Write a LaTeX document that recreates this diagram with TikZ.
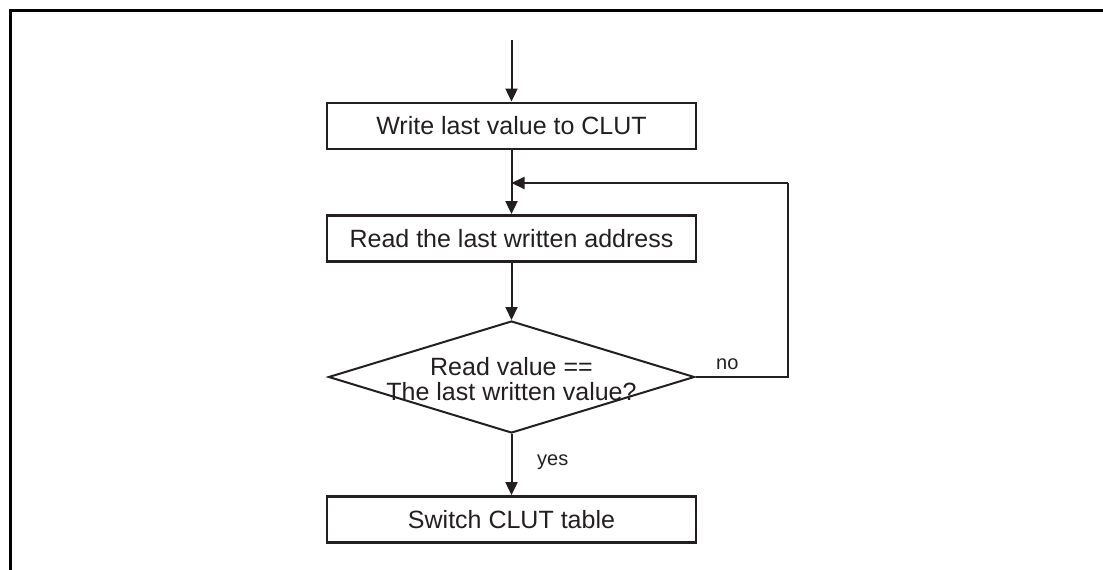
\documentclass[tikz,border=0pt]{standalone}
\usepackage{fontspec}
\setmainfont{Liberation Sans}
\usetikzlibrary{arrows.meta,shapes.geometric}
\definecolor{ink}{HTML}{231F20}
\begin{document}
\begin{tikzpicture}[x=1pt,y=-1pt,
  every node/.style={text=ink},
  procbox/.style={draw=ink,line width=2.8pt,minimum width=369pt,minimum height=46pt,inner sep=0pt,
    font=\fontsize{25}{25}\selectfont},
  decbox/.style={draw=ink,line width=2pt,shape=diamond,minimum width=366pt,minimum height=112pt,inner sep=0pt},
  conn/.style={draw=ink,line width=2pt},
  arr/.style={conn,-{Triangle[length=13pt,width=12pt]}},
  lbl/.style={font=\fontsize{20}{20}\selectfont,inner sep=0pt}]
\useasboundingbox (0,0) rectangle (1103,570);
\draw[line width=3pt] (10,570) -- (10,10) -- (1103,10);
\node[procbox] (b1) at (511.5,126) {Write last value to CLUT};
\node[procbox] (b2) at (511.5,238.5) {Read the last written address};
\node[decbox] (dec) at (511.5,377) {};
\node[align=center,font=\fontsize{25}{25}\selectfont,inner sep=0pt] (dectext) at (511.5,379) {Read value ==\\The last written value?};
\node[procbox] (b3) at (511.5,519.5) {Switch CLUT table};
\coordinate (start) at (511.5,40);
\coordinate (join) at (511.5,183);
\coordinate (loopr) at (788,377);
\coordinate (loopt) at (788,183);
\draw[arr] (start) -- (b1.north);
\draw[arr] (b1.south) -- (b2.north);
\draw[arr] (b2.south) -- (dec.north);
\draw[conn] (dec.east) -- (loopr) -- (loopt);
\draw[arr] (loopt) -- (join);
\draw[arr] (dec.south) -- (b3.north);
\node[lbl,anchor=base west] (no) at (716,369) {no};
\node[lbl,anchor=base west] (yes) at (537,465) {yes};
\end{tikzpicture}
\end{document}
